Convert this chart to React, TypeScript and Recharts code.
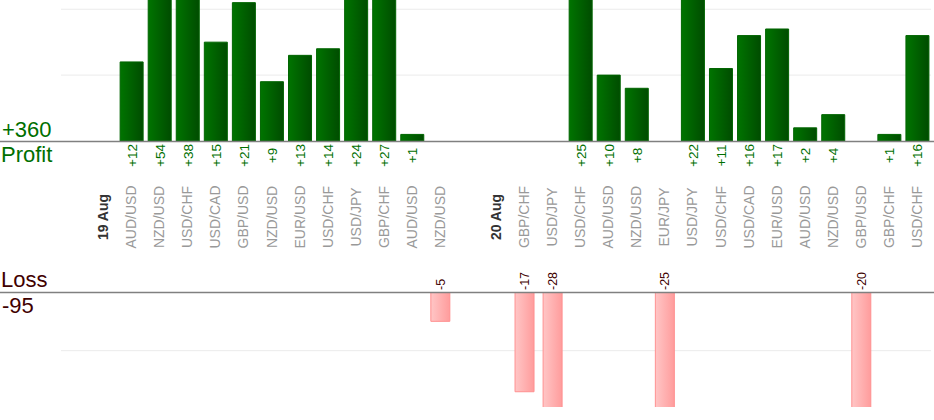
import React from 'react';
import { BarChart, Bar, XAxis, YAxis, CartesianGrid, LabelList } from 'recharts';

// one slot per trade, blank slots separate the days
const slots = [
  '', '19 Aug', 'AUD/USD', 'NZD/USD', 'USD/CHF', 'USD/CAD', 'GBP/USD', 'NZD/USD', 'EUR/USD', 'USD/CHF',
  'USD/JPY', 'GBP/CHF', 'AUD/USD', 'NZD/USD', '', '20 Aug', 'GBP/CHF', 'USD/JPY', 'USD/CHF', 'AUD/USD',
  'NZD/USD', 'EUR/JPY', 'USD/JPY', 'USD/CHF', 'USD/CAD', 'EUR/USD', 'AUD/USD', 'NZD/USD', 'GBP/USD',
  'GBP/CHF', 'USD/CHF',
];
const dayLabels = ['19 Aug', '20 Aug'];

const profits = [
  null, null, 12, 54, 38, 15, 21, 9, 13, 14,
  24, 27, 1, null, null, null, null, null, 25, 10,
  8, null, 22, 11, 16, 17, 2, 4, null,
  1, 16,
];
const losses = [
  null, null, null, null, null, null, null, null, null, null,
  null, null, null, -5, null, null, -17, -28, null, null,
  null, -25, null, null, null, null, null, null, -20,
  null, null,
];

const profitGrid = [10, 20];
const lossGrid = [-10];

const data = slots.map((name, i) => ({ i, name, profit: profits[i], loss: losses[i] }));

const totalProfit = profits.reduce((s: number, v) => s + (v ?? 0), 0);
const totalLoss = losses.reduce((s: number, v) => s + (v ?? 0), 0);

const FONT = '"Liberation Sans", Arial, sans-serif';
const GREEN = '#006f00';
const MAROON = '#3f0000';

const SlotTick = (props: any) => {
  const { x, y, payload } = props;
  const label = slots[payload.value];
  if (!label) return null;
  const isDay = dayLabels.includes(label);
  return (
    <text
      transform={`translate(${x},${y + 76}) rotate(-90)`}
      textAnchor="middle"
      dy="0.36em"
      fontFamily={FONT}
      fontSize={14}
      fontWeight={isDay ? 'bold' : 'normal'}
      fill={isDay ? '#333' : '#999'}
    >
      {label}
    </text>
  );
};

const ProfitLabel = (props: any) => {
  const { x, y, width, height, value } = props;
  if (value == null) return null;
  const cx = x + width / 2;
  const base = y + height;
  return (
    <text
      transform={`translate(${cx},${base + 14.5}) rotate(-90)`}
      textAnchor="middle"
      dy="0.36em"
      fontFamily={FONT}
      fontSize={13.5}
      fill={GREEN}
    >
      {`+${value}`}
    </text>
  );
};

const LossLabel = (props: any) => {
  const { x, y, width, height, value } = props;
  if (value == null) return null;
  const cx = x + width / 2;
  const base = Math.min(y, y + height);
  return (
    <text
      transform={`translate(${cx},${base - 2}) rotate(-90)`}
      textAnchor="start"
      dy="0.36em"
      fontFamily={FONT}
      fontSize={12.5}
      fill={MAROON}
    >
      {`${value}`}
    </text>
  );
};

const App: React.FC = () => {
  return (
    <div style={{ position: 'absolute', left: 0, top: 0, width: 934, height: 420, background: '#fff', overflow: 'hidden' }}>
      <div style={{ position: 'absolute', left: 0, top: 0 }}>
        <BarChart width={934} height={260} data={data} margin={{ top: 0, right: 3, left: 61, bottom: 0 }} barSize={23}>
          <defs>
            <linearGradient id="profitFill" x1="0" y1="0" x2="1" y2="0">
              <stop offset="0%" stopColor="#007400" />
              <stop offset="100%" stopColor="#004c00" />
            </linearGradient>
          </defs>
          <CartesianGrid vertical={false} stroke="#ebebeb" horizontalValues={profitGrid} />
          <XAxis
            dataKey="i"
            type="category"
            height={119}
            axisLine={false}
            tickLine={false}
            tickSize={0}
            tickMargin={0}
            interval={0}
            tick={<SlotTick />}
          />
          <YAxis hide domain={[0, 21.4]} ticks={profitGrid} allowDataOverflow />
          <Bar dataKey="profit" fill="url(#profitFill)" stroke="#006400" strokeWidth={1} isAnimationActive={false}>
            <LabelList dataKey="profit" content={<ProfitLabel />} />
          </Bar>
        </BarChart>
      </div>
      <div style={{ position: 'absolute', left: 0, top: 260 }}>
        <BarChart width={934} height={160} data={data} margin={{ top: 32, right: 3, left: 61, bottom: 13 }} barSize={19}>
          <defs>
            <linearGradient id="lossFill" x1="0" y1="0" x2="1" y2="0">
              <stop offset="0%" stopColor="#ffc6c6" />
              <stop offset="100%" stopColor="#ff9c9c" />
            </linearGradient>
          </defs>
          <CartesianGrid vertical={false} stroke="#ebebeb" horizontalValues={lossGrid} />
          <XAxis dataKey="i" type="category" hide />
          <YAxis hide domain={[-19.6, 0]} ticks={lossGrid} allowDataOverflow />
          <Bar dataKey="loss" fill="url(#lossFill)" stroke="#ff9090" strokeWidth={1} isAnimationActive={false}>
            <LabelList dataKey="loss" content={<LossLabel />} />
          </Bar>
        </BarChart>
      </div>
      <svg width={934} height={420} style={{ position: 'absolute', left: 0, top: 0, pointerEvents: 'none' }}>
        <line x1={0} x2={934} y1={141.5} y2={141.5} stroke="#808080" strokeWidth={1.5} />
        <line x1={0} x2={934} y1={292.5} y2={292.5} stroke="#808080" strokeWidth={1.5} />
        <text x={2} y={137} fontFamily={FONT} fontSize={22} fill={GREEN}>{`+${totalProfit}`}</text>
        <text x={1} y={162} fontFamily={FONT} fontSize={22} fill={GREEN}>Profit</text>
        <text x={1} y={287} fontFamily={FONT} fontSize={22} fill={MAROON}>Loss</text>
        <text x={2} y={313} fontFamily={FONT} fontSize={22} fill={MAROON}>{`${totalLoss}`}</text>
      </svg>
    </div>
  );
};

export default App;
